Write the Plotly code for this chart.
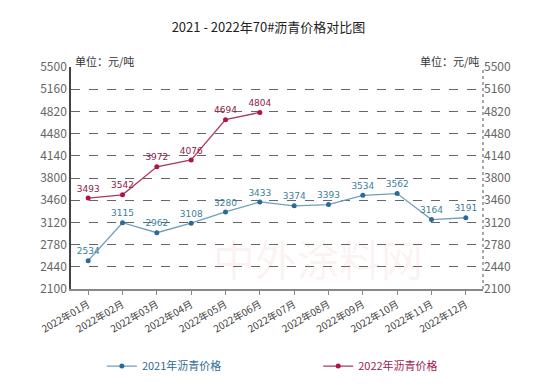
import plotly.graph_objects as go

months = ["2022年01月", "2022年02月", "2022年03月", "2022年04月", "2022年05月", "2022年06月",
          "2022年07月", "2022年08月", "2022年09月", "2022年10月", "2022年11月", "2022年12月"]
price_2021 = [2534, 3115, 2962, 3108, 3280, 3433, 3374, 3393, 3534, 3562, 3164, 3191]
price_2022 = [3493, 3542, 3972, 4076, 4694, 4804]
y_ticks = [2100, 2440, 2780, 3120, 3460, 3800, 4140, 4480, 4820, 5160, 5500]

fig = go.Figure()
fig.add_trace(go.Scatter(
    x=months, y=price_2021, name="<span style='color:#2f6b94'>2021年沥青价格</span>",
    mode="lines+markers+text", legend="legend",
    text=[str(v) for v in price_2021], textposition="top center",
    textfont=dict(size=9, color="#3b7f9c", family="DejaVu Sans"),
    line=dict(color="#6e9fbf", width=1.3),
    marker=dict(color="#2a6a96", size=5),
))
fig.add_trace(go.Scatter(
    x=months[:len(price_2022)], y=price_2022, name="<span style='color:#a0214f'>2022年沥青价格</span>",
    mode="lines+markers+text", legend="legend2",
    text=[str(v) for v in price_2022], textposition="top center",
    textfont=dict(size=9, color="#8e2247", family="DejaVu Sans"),
    line=dict(color="#a83a60", width=1.3),
    marker=dict(color="#b0143f", size=5),
))
# invisible trace for right axis
fig.add_trace(go.Scatter(x=months, y=price_2021, yaxis="y2", showlegend=False,
                         mode="markers", marker=dict(opacity=0), hoverinfo="skip"))

fig.update_layout(
    width=537, height=387,
    margin=dict(l=71, r=54, t=67, b=98, autoexpand=False),
    paper_bgcolor="white", plot_bgcolor="white",
    font=dict(family="Noto Sans CJK SC", size=11, color="#444"),
    title=dict(text="2021 - 2022年70#沥青价格对比图", x=0.5, xanchor="center",
               y=0.928, yanchor="middle", font=dict(size=13, color="#222")),
    xaxis=dict(type="category", categoryorder="array", categoryarray=months,
               range=[-0.5, 11.5], tickangle=-30, showline=True, linecolor="#888",
               linewidth=2, ticks="outside", ticklen=4, tickcolor="#888",
               tickfont=dict(size=10, color="#444"), showgrid=False),
    yaxis=dict(range=[2100, 5500], tickvals=y_ticks, showline=True, linecolor="#444",
               linewidth=1.5, showgrid=True, gridcolor="#666", griddash="dash", gridwidth=1,
               tickfont=dict(size=12, color="#666"), zeroline=False, ticks=""),
    yaxis2=dict(range=[2100, 5500], tickvals=y_ticks, overlaying="y", side="right",
                showline=False, showgrid=False, zeroline=False,
                tickfont=dict(size=12, color="#666")),
    legend=dict(orientation="h", x=0.075, xanchor="left", y=-0.347, yanchor="middle",
                font=dict(size=11, color="#333"), itemwidth=30),
    legend2=dict(orientation="h", x=0.6, xanchor="left", y=-0.347, yanchor="middle",
                 font=dict(size=11, color="#333"), itemwidth=30),
    showlegend=True,
)
# right dotted axis
fig.add_shape(type="line", xref="paper", yref="paper", x0=1, x1=1, y0=0, y1=1,
              line=dict(color="#555", width=1, dash="dot"))
fig.add_annotation(text="单位：元/吨", xref="paper", yref="paper", x=0.0, y=1.0,
                   xanchor="left", yanchor="bottom", showarrow=False,
                   font=dict(size=11, color="#333"), xshift=2, yshift=-4)
fig.add_annotation(text="单位：元/吨", xref="paper", yref="paper", x=1.0, y=1.0,
                   xanchor="right", yanchor="bottom", showarrow=False,
                   font=dict(size=11, color="#333"), xshift=-2, yshift=-4)
fig.add_annotation(text="中外涂料网", xref="paper", yref="paper", x=0.6, y=0.14,
                   yanchor="middle", showarrow=False,
                   font=dict(size=42, color="rgba(225,120,120,0.10)"))
fig.write_html("out.html", config={"displayModeBar": False},
               post_script="document.body.style.margin='0';")
